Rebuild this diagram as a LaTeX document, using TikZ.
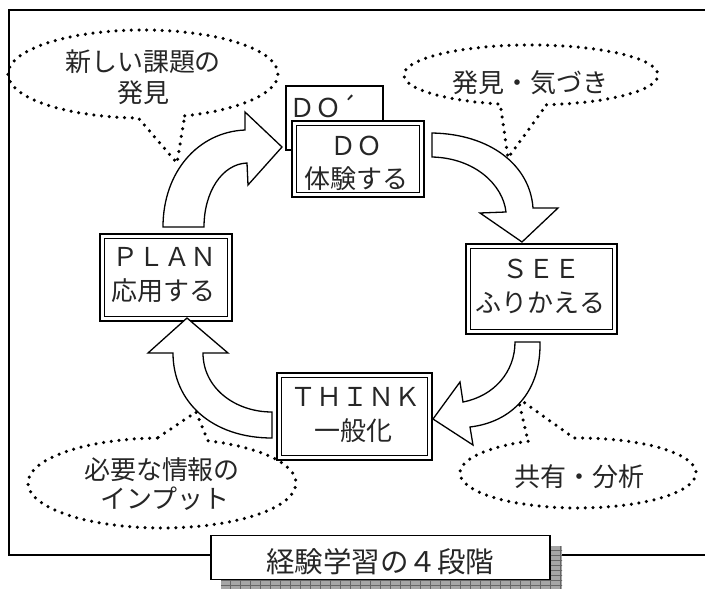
\documentclass[tikz,border=0pt]{standalone}
\usepackage{fontspec}
\setmainfont{Noto Sans CJK JP}
\begin{document}
\begin{tikzpicture}[x=1pt,y=1pt,
  txt/.style={font=\fontsize{26}{34}\selectfont, text=black!85, inner sep=0pt},
  ttl/.style={font=\fontsize{28.5}{34}\selectfont, text=black!85, inner sep=0pt},
  outerbox/.style={draw, line width=2.6pt, fill=white, inner sep=0pt},
  innerline/.style={line width=1.2pt},
  dotline/.style={line width=3.5pt, dash pattern=on 0pt off 7.7pt, line cap=round},
  blockarrow/.style={draw, fill=white, line width=1.3pt, line join=miter}]
\useasboundingbox (0,0) rectangle (705,-589);
\clip (0,0) rectangle (705,-589);
\fill[white] (0,0) rectangle (705,-589);
% outer frame
\draw[line width=1.3pt] (9,-10) rectangle (720,-555);

% callouts
\coordinate (c1c) at (143,-74);
\draw[dotline] ([shift={(288:135pt and 44pt)}]c1c) arc[start angle=288, end angle=628, x radius=135pt, y radius=44pt] -- (177,-163) -- cycle;
\node[txt] (c1a) at (143,-62) {新しい課題の};
\node[txt] (c1b) at (143,-93) {発見};

\coordinate (c2c) at (531,-75);
\draw[dotline] ([shift={(277:127pt and 30pt)}]c2c) arc[start angle=277, end angle=616, x radius=127pt, y radius=30pt] -- (508,-158) -- cycle;
\node[txt] (c2a) at (530,-83) {発見・気づき};

\coordinate (c3c) at (578,-473);
\draw[dotline] ([shift={(115:118pt and 35pt)}]c3c) arc[start angle=115, end angle=452, x radius=118pt, y radius=35pt] -- (518,-398) -- cycle;
\node[txt] (c3a) at (579,-477) {共有・分析};

\coordinate (c4c) at (162,-483);
\draw[dotline] ([shift={(92:134pt and 45pt)}]c4c) arc[start angle=92, end angle=430, x radius=134pt, y radius=45pt] -- (196,-412) -- cycle;
\node[txt] (c4a) at (162,-470) {必要な情報の};
\node[txt] (c4b) at (165,-499) {インプット};

% DO' box
\node[draw, line width=1.3pt, fill=white, minimum width=97pt, minimum height=64pt, inner sep=0pt] (dop) at (334.5,-118) {};
\node[txt, anchor=west] (dopt) at (289,-106) {ＤＯ´};

% main boxes
\node[outerbox, minimum width=132pt, minimum height=76pt] (do) at (358,-159) {};
\draw[innerline] ([shift={(5.5pt,-5.5pt)}]do.north west) rectangle ([shift={(-5.5pt,5.5pt)}]do.south east);
\node[txt] (do1) at (356,-146) {ＤＯ};
\node[txt] (do2) at (356,-179) {体験する};

\node[outerbox, minimum width=151pt, minimum height=90pt] (see) at (541.5,-289) {};
\draw[innerline] ([shift={(5.5pt,-5.5pt)}]see.north west) rectangle ([shift={(-5.5pt,5.5pt)}]see.south east);
\node[txt] (see1) at (541.5,-268.5) {ＳＥＥ};
\node[txt] (see2) at (540.5,-303) {ふりかえる};

\node[outerbox, minimum width=155pt, minimum height=87pt] (think) at (354.5,-416.5) {};
\draw[innerline] ([shift={(5.5pt,-5.5pt)}]think.north west) rectangle ([shift={(-5.5pt,5.5pt)}]think.south east);
\node[txt] (think1) at (355,-397) {ＴＨＩＮＫ};
\node[txt] (think2) at (353.5,-431) {一般化};

\node[outerbox, minimum width=132pt, minimum height=87pt] (plan) at (166,-277.5) {};
\draw[innerline] ([shift={(5.5pt,-5.5pt)}]plan.north west) rectangle ([shift={(-5.5pt,5.5pt)}]plan.south east);
\node[txt] (plan1) at (164,-257) {ＰＬＡＮ};
\node[txt] (plan2) at (163,-291) {応用する};

% block arrows
\draw[blockarrow] (163,-227) .. controls (163,-172) and (198,-132) .. (245,-130) -- (245,-112) -- (282,-147) -- (248,-185) -- (247,-163) .. controls (222,-164) and (204,-192) .. (204,-227) -- cycle;
\draw[blockarrow] (432,-133) .. controls (490,-134) and (530,-165) .. (533,-208) -- (558,-208) -- (522,-242) -- (480,-213) -- (506,-212) .. controls (503,-185) and (475,-158) .. (432,-157) -- cycle;
\draw[blockarrow] (540,-342) .. controls (541,-392) and (512,-422) .. (470,-427) -- (473,-445) -- (433,-419) -- (460,-382) -- (463,-402) .. controls (494,-396) and (515,-372) .. (515,-342) -- cycle;
\draw[blockarrow] (272,-438) .. controls (212,-438) and (173,-402) .. (173,-353) -- (148,-353) -- (187,-318) -- (228,-353) -- (203,-353) .. controls (203,-388) and (235,-412) .. (272,-412) -- cycle;

% title with hatched shadow
\begin{scope}
\clip (221,-546) rectangle (562,-600);
\fill[gray!70] (221,-546) rectangle (562,-600);
\draw[black!60, line width=0.7pt, xstep=10pt, ystep=5pt] (220,-600) grid (570,-540);
\end{scope}
\node[draw, line width=1.5pt, fill=white, minimum width=339pt, minimum height=44pt, inner sep=0pt] (title) at (380.5,-557.5) {};
\node[ttl] (titletext) at (380,-562) {経験学習の４段階};
\end{tikzpicture}
\end{document}
